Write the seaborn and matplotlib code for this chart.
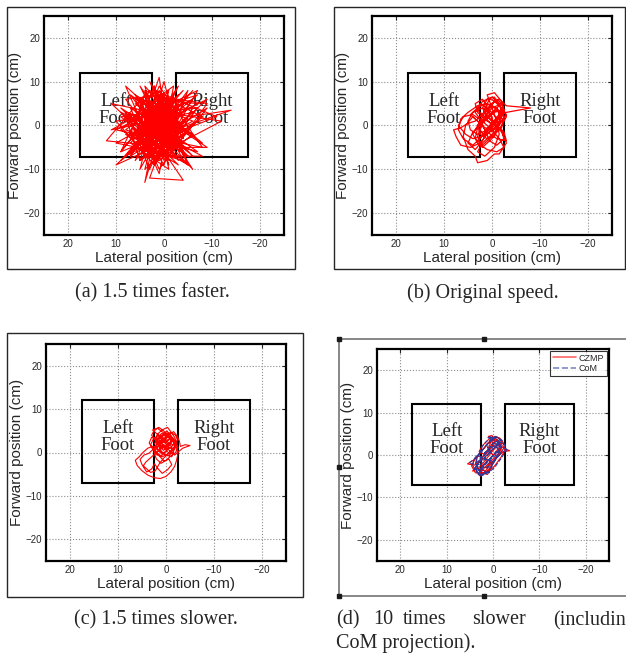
import numpy as np
import pandas as pd
import matplotlib
matplotlib.use('Agg')
import matplotlib.pyplot as plt
from matplotlib.patches import Rectangle
from matplotlib.lines import Line2D
import seaborn as sns

sns.set_style('white')
plt.rcParams['font.family'] = ['Liberation Sans', 'DejaVu Sans']

# trajectories (lateral cm, forward cm)
faster_xy = [(1, 2), (3, -6), (-2, 5), (4, 8), (0, -4), (-3, 3), (6, -2), (2, 9), (-1, -8), (5, 1),
             (-4, -3), (1, 6), (9, -1), (0, -7), (-6, 4), (3, 3), (-2, -5), (12, -3.5), (4, 7), (-1, -9),
             (2, 0), (-9, 6), (5, -8), (0, 10), (-3, -2), (7, 4), (1, -11), (-2, 7), (3, -3), (-14, 3.5),
             (-5, 2), (2, -6), (8, 9), (0, 1), (-4, -8), (6, -5), (1, 11), (-1, -4), (4, 2), (-7, 8),
             (2, -9), (10, 1), (-2, 3), (3, -12), (-4, -12.5), (0, -6), (5, 6), (-8, -4), (1, 4), (7, -7),
             (-3, 9), (2, -2), (4, -13), (-1, 5), (6, 1), (-5, -9), (0, 7), (3, -4), (-11, 2), (2, 8),
             (-2, -3), (8, -2), (1, -8), (-6, -2), (4, 5), (0, -1), (-3, 6), (5, -10), (2, 3), (-9, -5),
             (1, -5), (11, 5), (-2, 2), (3, 10), (-4, -6), (0, 4), (7, -4), (-1, -10), (2, 6), (-7, 5),
             (4, -2), (0, -9), (-3, 1), (6, 7), (1, -3), (-5, -7), (3, 2), (9, -6), (-1, 8), (2, -7),
             (-12, 1), (0, 3), (4, -5), (-2, -7), (5, 4), (1, 0), (-3, -4), (7, 2), (0, -2), (-2, 9),
             (3, 5), (-6, -10), (2, -1), (5, -3), (-1, 6), (1, -6), (10, -4), (0, 2), (-1, 1), (2, 4),
             (-2, -1), (1, 7), (0, -5), (-1, 3), (2, -4), (-2, 0), (1, 5), (0, -3),
             (0, 5), (6, -3), (-4, 8), (8, -7), (-6, 1), (5, 6), (2, -9), (-7, 4), (9, 2), (0, -6),
             (4, 9), (-5, -2), (7, 7), (-3, -8), (3, 3), (10, -1), (-8, -5), (1, 9), (6, -5), (-2, 0),
             (8, 3), (3, -7), (-6, 6), (5, 0), (1, -10), (-9, 5), (4, 7), (7, -2), (-3, -9), (9, 4),
             (-1, -3), (-5, 8), (6, -8), (2, 1), (-7, -6), (8, -1), (0, 6), (4, -10), (-8, 2), (3, 8),
             (9, -6), (-2, -1), (6, 5), (-4, -4), (1, 0), (5, 9), (-3, -4), (-9, 4), (7, -7), (0, 7),
             (8, 6), (3, -1), (-5, -7), (4, 3), (-7, 7), (2, -1), (10, -9), (-4, -2), (1, 8), (6, -5),
             (-2, 2), (9, -8), (2, 1), (-6, -7), (5, 6), (0, -8), (-4, 5), (7, 1), (3, -10), (-3, 4),
             (6, 6), (0, -4), (-7, 1), (5, -8), (8, 2), (-2, -5), (2, 9), (6, -2), (-5, -9), (1, 5),
             (11, -1), (-6, 3), (4, -6), (2, 2), (-3, 7), (7, -3), (0, -1), (-5, -6), (5, 4), (3, -7),
             (-8, -7), (4, 0), (0, 6), (-4, -3), (9, 3), (4, -4), (-6, 8), (1, -1)]

original_xy = [(0, 0), (1.5, 2), (3, 3.5), (2, 5.5), (0, 6.5), (-1.5, 5), (-2, 3), (-1, 1), (1, -1), (3, -2),
               (4.5, -1), (5, 1), (4, 3), (2, 4), (0, 3), (-1, 1.5), (0.5, 0), (2.5, -3), (4, -4.5), (6, -3),
               (7, -1), (6.5, 1.5), (5, 3), (3, 4.5), (1, 5), (-1, 4), (-2.5, 2), (-2, -0.5), (0, -2), (2, -4),
               (3, -6), (1.5, -7), (-0.5, -5), (-1.5, -2), (-1, 1), (0, 4), (1, 7), (-0.5, 7.5), (-2, 5.5),
               (-2.5, 3), (-1, 0), (1, -2), (2.5, -4), (4.5, -5), (6.5, -4.5), (7.5, -2.5), (8, -1), (6.5, -0.5),
               (5, 0.5), (3.5, 1), (2, 2.5), (1, 4.5), (2, 6), (3.5, 5), (3, 3), (1, 1), (-1, 0), (-2.5, -1.5),
               (-3, -3.5), (-1, -3), (1, -1.5), (2.5, 0.5), (4, 2), (5.5, 0), (6, -2.5), (5, -5.5), (3.5, -7),
               (3, -8.5), (1, -8), (-0.5, -6.5), (-1.5, -6.5), (-3, -4), (-2, -1.5), (0, 1), (1.5, 3), (0, 5),
               (-1.5, 6), (-3, 4.5), (-8, 4), (-3, 3), (-1, 2), (0.5, -0.5), (2, -2.5), (4, -3), (5.5, -2),
               (7, 0), (6, 2), (4, 2.5), (2, 1), (0, -1), (-1.5, -3), (-2.5, -5), (-1, -6), (1, -5.5), (3, -4),
               (4, -2), (3, 0), (1.5, 2), (0, 4), (-2, 5), (-3, 2), (-2, 0), (0, -3), (2, -5), (3, -2.5),
               (2, 0.5), (1, 3), (-0.5, 5.5), (-2, 4), (-1.5, 1), (0, -1.5),
               (0, 2), (1.5, 4), (0.5, 6), (-1, 5.5), (-2, 4), (-2.5, 2), (-1.5, 0), (0, -1), (1.5, -2.5),
               (2.5, -1), (2, 1), (0.5, 2.5), (-1, 3.5), (-2, 2), (-1, -1), (0.5, -3), (2, -4.5), (3.5, -3),
               (3, -0.5), (1.5, 1.5), (0, 3), (-1.5, 4.5), (-0.5, 6.5), (1, 6), (2, 4), (1, 2), (-0.5, 0.5),
               (-2, -1), (-2.5, -3), (-1, -4.5), (0.5, -3.5), (1.5, -1), (2.5, 1.5), (3.5, 3), (2.5, 5), (1, 4),
               (0, 1.5), (-1, -0.5), (-0.5, -2.5), (1, -3), (2.5, -2), (3, 0), (2, 2), (0.5, 4.5), (-1, 6),
               (-2, 5), (-2.5, 3.5), (-1.5, 2), (-0.5, 0), (1, -1.5), (2, -3.5), (3.5, -5.5), (5, -4), (4, -1.5),
               (2.5, 0), (1, 1.5), (-0.5, 3), (-2, 3.5), (-3, 2.5), (-2, 1), (-0.5, -1), (1.5, -0.5), (3, 1),
               (4.5, 2.5), (3, 4), (1.5, 5), (0, 4.5), (-1.5, 3), (-1, 1), (0.5, 0)]

slower_xy = [(0, 1), (0.8, 2), (1.5, 3), (0.5, 4), (-0.5, 3.5), (-1.2, 2.5), (-0.5, 1.5), (0.5, 0.5), (1.5, 1.5),
             (2.2, 2.8), (1.8, 4.2), (0.8, 5.2), (-0.3, 5.8), (-1, 4.8), (-1.8, 3.5), (-2.2, 2.2), (-1.5, 1),
             (-0.5, -0.2), (0.8, -1), (2, -0.5), (2.8, 0.8), (3.5, 2.2), (3, 3.5), (2, 3), (1, 2.2), (0, 2.8),
             (-1, 3.2), (-2, 2.5), (-2.5, 1.2), (-2, 0), (-1, -0.8), (0, -1.8), (1, -2.5), (2, -1.5), (2.5, 0),
             (1.8, 1.2), (0.5, 1.8), (-0.8, 1.2), (-1.6, 0.3), (-1.2, -1), (0, -0.5), (1.2, 0.3), (2.5, 1.5),
             (3.8, 1), (4.8, 0), (5.6, -1), (6.4, -1.8), (6, -3), (5, -4.2), (3.8, -5.2), (2.5, -5.8), (1.2, -6),
             (0, -5.5), (-1, -4.5), (-1.8, -3.2), (-2.2, -1.8), (-2.5, -0.3), (-2.2, 1.2), (-1.5, 2.5),
             (-0.5, 3.8), (0.5, 5), (1.5, 5.8), (2.5, 5), (3, 4), (2.2, 2.8), (1.2, 2.2), (0.3, 3.2), (-0.6, 4.2),
             (-1.6, 4.8), (-2.3, 3.8), (-2.8, 2.6), (-3, 1.4), (-4, 1.8), (-5, 1.6), (-3.5, 1), (-2.6, 0.2),
             (-1.8, -0.6), (-0.8, 0.4), (0.2, 1.3), (1.2, 0.8), (2.2, -0.2), (3.2, -1.2), (4.2, -2.2), (4.8, -3.2),
             (4, -4.5), (3, -3.8), (2.4, -2.6), (1.6, -3.8), (0.8, -4.8), (-0.3, -4), (-1.2, -2.8), (-0.6, -1.5),
             (0.4, -2), (1.4, -0.8), (2.4, 0.6), (3.2, 1.8), (2.6, 3.2), (1.6, 4), (0.6, 3.4), (-0.4, 2.4),
             (-1.4, 1.8), (-2.4, 2.8), (-2, 4), (-1, 4.6), (0, 4.2), (1, 3.6), (2, 4.4), (2.8, 5.2), (1.8, 5.6),
             (0.6, 4.6), (-0.2, 3.4), (0.6, 2.4), (1.6, 1.6), (2.6, 0.8), (3.6, -0.2), (4.6, -0.6), (5.4, -1.6),
             (5, -2.8), (4.2, -3.6), (3.2, -4.6), (2.2, -4.2), (1.4, -2.6), (0.4, -1.2), (-0.6, -0.2),
             (-1.4, 0.8), (-0.8, 2), (0.2, 1.6), (1, 1),
             (1.5, 1.8), (1, 2.6), (0.2, 2.2), (-0.5, 2.8), (-1.2, 3.6), (-0.6, 4.4), (0.2, 3.8), (0.9, 4.4),
             (1.6, 3.6), (2.1, 2.6), (1.4, 2), (0.6, 1.2), (-0.2, 0.6), (-1, 1.2), (-1.8, 2), (-1.2, 2.8),
             (-0.4, 2), (0.4, 2.8), (1.2, 3.4), (0.6, 4.2), (-0.2, 5), (-0.8, 4), (-1.6, 3.2), (-2.2, 1.8),
             (-1.6, 0.8), (-0.8, -0.2), (0, 0.4), (0.8, -0.4), (1.6, 0.4), (2.2, 1.4), (1.6, 2.4), (0.8, 3),
             (0, 2), (-0.6, 1), (0.2, 0), (1, -0.8), (1.8, -0.2), (2.4, 0.8), (2, 2), (1.2, 2.8), (0.2, 3.4),
             (-0.8, 3.6), (-1.6, 2.6), (-2, 1.2), (-1.4, 0), (-0.4, -0.8), (0.6, -0.2), (1.4, 1), (0.8, 1.8),
             (0, 1.2), (-0.8, 1.8), (-1.4, 3), (-0.8, 4.2), (0.2, 4.6), (1, 3.8), (1.8, 3), (2.4, 2)]

czmp_xy = [(0, 0), (1, 1.5), (0.5, 3), (-0.5, 4), (-1.2, 3), (-1.8, 1.5), (-1, 0), (0.2, -1.2), (1.4, -2.5),
           (2.5, -3.8), (3, -4.8), (2, -4.5), (1, -3.5), (0, -2), (-0.8, -0.5), (-1.5, 1), (-2, 2.2), (-1.2, 3.2),
           (0, 3.8), (1, 4.4), (0.2, 4.6), (-0.4, 3), (0.4, 1.8), (1.4, 0.6), (2.4, -0.6), (3.2, -1.8), (4, -2.4),
           (5.5, -2.1), (4.2, -1.2), (3.2, 0), (2.2, 1.2), (1.4, 2.4), (0.6, 3.4), (-0.4, 2.6), (-1.6, 2),
           (-3.6, 1), (-2.2, 0.8), (-1.2, -0.2), (-0.2, -1.2), (0.8, -2.6), (1.8, -4), (2.6, -5), (3.4, -4),
           (3.8, -3), (3, -1.8), (2, -0.8), (1, 0.4), (0, 1.4), (-1, 2.4), (-1.8, 3.2), (-1.4, 4), (-0.4, 4.2),
           (0.6, 3.2), (1.6, 2), (2.6, 0.8), (3.4, -0.6), (3.8, -2), (3.2, -3.4), (2.2, -4.2), (1.2, -4.6),
           (0.6, -3.4), (0.2, -2.2), (-0.6, -1), (-1.4, 0.2), (-2.2, 1.4), (-2.6, 2.4), (-1.8, 2.8), (-0.8, 2),
           (0.2, 0.8), (1.2, -0.6), (2.2, -2), (3.2, -3.2), (4.4, -3.8), (3.6, -2.6), (2.8, -1.2), (1.8, 0),
           (0.8, 1.2), (-0.2, 2.2), (-1.2, 1.6), (-0.4, 0.4), (0.6, -0.8), (1.6, -1.8), (2.4, -2.8), (1.4, -3),
           (0.4, -1.6), (1.8, -1), (3.2, -0.2), (4, -1.2), (4.6, -2.6), (3.8, -4.2), (2.4, -4.4), (1, -3.8),
           (-0.2, -2.8), (-1, -1.6), (-1.8, -0.4), (-2.4, 0.8), (-2.6, 2), (-1.8, 3.6), (-0.6, 4.4), (0.6, 4),
           (1.6, 3), (2.4, 2), (3, 0.8), (2, 0.2), (1, 1.4), (0.2, 2.6), (-0.8, 3.4), (-1.6, 1.6), (-0.8, 0.6),
           (0.2, -0.4), (1.2, -1.4), (2.2, -2.6), (3, -3.8), (1.8, -3.6)]

com_xy = [(0.3, 0.2), (1.2, 1.8), (0.6, 3.3), (-0.4, 4.2), (-1.4, 3.2), (-1.6, 1.8), (-0.8, 0.2), (0.4, -1),
          (1.6, -2.2), (2.6, -3.5), (3.2, -4.6), (2.2, -4.8), (1.1, -3.8), (0.2, -2.4), (-0.6, -0.8), (-1.3, 0.8),
          (-1.8, 2), (-1.1, 3), (0.1, 3.6), (1.1, 4.1), (0.3, 4.4), (-0.3, 3.2), (0.5, 2), (1.5, 0.8), (2.5, -0.4),
          (3.3, -1.6), (4.2, -2.2), (5.2, -1.9), (4.1, -1), (3.1, 0.2), (2.1, 1.4), (1.3, 2.6), (0.5, 3.6),
          (-0.5, 2.8), (-1.5, 2.2), (-3.2, 1.1), (-2, 0.6), (-1, -0.4), (0, -1.4), (1, -2.8), (2, -4.2),
          (2.8, -4.9), (3.5, -3.8), (3.6, -2.8), (2.8, -1.6), (1.8, -0.6), (0.8, 0.6), (-0.2, 1.6), (-1.1, 2.6),
          (-1.6, 3.4), (-1.2, 4.1), (-0.2, 4), (0.8, 3), (1.8, 1.8), (2.8, 0.6), (3.5, -0.8), (3.6, -2.2),
          (3, -3.6), (2, -4.4), (1, -4.4), (0.4, -3.2), (0, -2), (-0.8, -0.8), (-1.6, 0.4), (-2.3, 1.6),
          (-2.4, 2.6), (-1.6, 3), (-0.6, 2.2), (0.4, 1), (1.4, -0.4), (2.4, -1.8), (3.4, -3), (4.2, -3.6),
          (3.4, -2.4), (2.6, -1), (1.6, 0.2), (0.6, 1.4), (-0.4, 2.4), (-1, 1.4), (-0.2, 0.2), (0.8, -1),
          (1.8, -2), (2.2, -3), (1.2, -2.8), (0.6, -1.4), (2, -0.8), (3.3, 0), (4.1, -1), (4.4, -2.4),
          (3.6, -4), (2.2, -4.6), (0.8, -4), (-0.3, -3), (-1.1, -1.8), (-1.9, -0.6), (-2.5, 0.6), (-2.8, 1.8),
          (-2, 3.4), (-0.8, 4.3), (0.4, 4.2), (1.4, 3.2), (2.2, 2.2), (2.8, 1), (1.8, 0.4), (0.8, 1.6),
          (0, 2.8), (-1, 3.2), (-1.4, 1.4), (-0.6, 0.4), (0.4, -0.6), (1.4, -1.6), (2.4, -2.8), (3.2, -3.6),
          (2, -3.4)]

# foot outlines (lateral min/max, forward min/max)
left_foot = (2.5, 17.5, -7.1, 12.1)
right_foot = (-17.5, -2.5, -7.1, 12.1)
ticks = [-20, -10, 0, 10, 20]
tick_labels = ['\u221220', '\u221210', '0', '10', '20']

W, H = 626, 656
fig = plt.figure(figsize=(W / 100, H / 100), dpi=100)


def px_axes(l, t, r, b):
    return fig.add_axes([l / W, 1 - b / H, (r - l) / W, (b - t) / H])


def frame(l, t, r, b, color='0.15', lw=1.0):
    fig.patches.append(Rectangle((l / W, 1 - b / H), (r - l) / W, (b - t) / H, transform=fig.transFigure,
                                 fill=False, edgecolor=color, linewidth=lw, clip_on=False))


def setup(ax):
    ax.set_xlim(25, -25)
    ax.set_ylim(-25, 25)
    ax.set_xticks(ticks)
    ax.set_yticks(ticks)
    ax.set_xticklabels(tick_labels)
    ax.set_yticklabels(tick_labels)
    ax.tick_params(direction='in', length=3, width=0.8, labelsize=7, top=True, right=True, pad=3)
    ax.grid(True, linestyle=':', color='0.55', linewidth=0.8)
    for s in ax.spines.values():
        s.set_linewidth(1.6)
        s.set_color('black')
    for fx in (left_foot, right_foot):
        ax.add_patch(Rectangle((fx[0], fx[2]), fx[1] - fx[0], fx[3] - fx[2], fill=False,
                               edgecolor='black', linewidth=1.5, zorder=1.5))
    ax.text(10, 3.5, 'Left\nFoot', ha='center', va='center', fontsize=13.5,
            family='Liberation Serif', linespacing=1.0, zorder=1)
    ax.text(-10, 3.5, 'Right\nFoot', ha='center', va='center', fontsize=13.5,
            family='Liberation Serif', linespacing=1.0, zorder=1)
    ax.set_xlabel('Lateral position (cm)', fontsize=11, labelpad=1)
    ax.set_ylabel('Forward position (cm)', fontsize=11, labelpad=1)


def traj(ax, xy, color, ls='-', lw=0.9, label=None):
    df = pd.DataFrame(xy, columns=['lat', 'fwd'])
    sns.lineplot(data=df, x='lat', y='fwd', sort=False, estimator=None, color=color,
                 linestyle=ls, linewidth=lw, ax=ax, label=label, zorder=2)


red = '#ff0000'
blue = '#2a3a9c'

# (a)
frame(7, 7, 295, 269)
ax = px_axes(44, 16, 284, 235)
traj(ax, faster_xy, red, lw=0.8)
setup(ax)

# (b)
frame(334, 7, 625, 269)
ax = px_axes(372, 16, 612, 235)
traj(ax, original_xy, red)
setup(ax)

# (c)
frame(7, 333, 303, 597)
ax = px_axes(46, 344, 286, 561)
traj(ax, slower_xy, red, lw=0.8)
setup(ax)

# (d)
frame(339, 339, 640, 596, color='0.45', lw=1.2)
for mx, my in [(339, 339), (484, 339), (339, 467), (339, 596), (484, 596)]:
    fig.add_artist(Line2D([mx / W], [1 - my / H], marker='s', markersize=2.5, color='0.1',
                          transform=fig.transFigure))
ax = px_axes(377, 349, 609, 561)
traj(ax, czmp_xy, red, lw=0.8, label='CZMP')
traj(ax, com_xy, blue, ls='--', lw=0.8, label='CoM')
setup(ax)
leg = ax.legend(loc='upper right', fontsize=6.5, frameon=True, fancybox=False, borderaxespad=0.2,
                handlelength=2.6, handletextpad=0.3, borderpad=0.3, labelspacing=0.2)
leg.get_frame().set_edgecolor('black')
leg.get_frame().set_linewidth(0.8)
for lh in leg.get_lines():
    lh.set_linewidth(1.2)
    lh.set_alpha(0.6)

# captions
cap = dict(family='Liberation Serif', fontsize=14.5, va='center')
fig.text(152 / W, 1 - 293 / H, '(a) 1.5 times faster.', ha='center', **cap)
fig.text(483 / W, 1 - 293 / H, '(b) Original speed.', ha='center', **cap)
fig.text(156 / W, 1 - 620 / H, '(c) 1.5 times slower.', ha='center', **cap)
for x, w in [(336, '(d)'), (373, '10'), (403, 'times'), (472, 'slower'), (553, '(including')]:
    fig.text(x / W, 1 - 620 / H, w, ha='left', **cap)
fig.text(336 / W, 1 - 643 / H, 'CoM projection).', ha='left', **cap)

fig.savefig('out.png', dpi=100)
